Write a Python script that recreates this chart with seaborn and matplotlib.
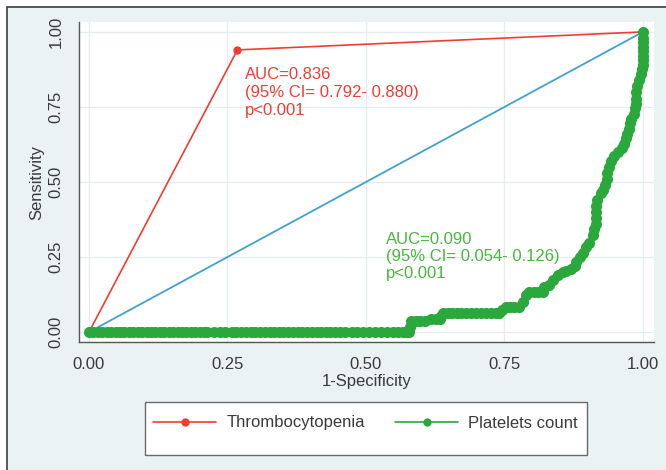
import matplotlib
matplotlib.use("Agg")
import matplotlib.pyplot as plt
import matplotlib.patches as mpatches
from matplotlib.lines import Line2D
import seaborn as sns

# =========================
# DATA
# =========================

# Thrombocytopenia (binary test -> single operating point)
thrombo_fpr = [0.0, 0.268, 1.0]
thrombo_tpr = [0.0, 0.940, 1.0]

# Platelets count ROC curve
platelets_fpr = [
    0.000, 0.008, 0.016, 0.024, 0.032, 0.040, 0.048, 0.056, 0.064, 0.072,
    0.080, 0.088, 0.096, 0.104, 0.112, 0.120, 0.128, 0.136, 0.144, 0.152,
    0.160, 0.168, 0.176, 0.184, 0.192, 0.200, 0.208, 0.213, 0.226, 0.236,
    0.246, 0.258, 0.266, 0.275, 0.283, 0.292, 0.300, 0.309, 0.317, 0.326,
    0.334, 0.343, 0.351, 0.360, 0.368, 0.377, 0.385, 0.394, 0.402, 0.411,
    0.419, 0.428, 0.436, 0.445, 0.453, 0.462, 0.474, 0.484, 0.494, 0.505,
    0.516, 0.528, 0.538, 0.548, 0.558, 0.567, 0.575, 0.578, 0.580, 0.582,
    0.590, 0.598, 0.606, 0.618, 0.626, 0.633, 0.636, 0.640, 0.648, 0.656,
    0.664, 0.672, 0.680, 0.690, 0.699, 0.708, 0.717, 0.726, 0.735, 0.741,
    0.745, 0.752, 0.760, 0.768, 0.777, 0.783, 0.789, 0.795, 0.803, 0.811,
    0.819, 0.822, 0.830, 0.837, 0.846, 0.855, 0.862, 0.870, 0.878, 0.880,
    0.886, 0.891, 0.897, 0.903, 0.909, 0.912, 0.916, 0.916, 0.916, 0.916,
    0.918, 0.924, 0.928, 0.932, 0.936, 0.936, 0.938, 0.942, 0.948, 0.955,
    0.962, 0.966, 0.969, 0.971, 0.974, 0.977, 0.979, 0.983, 0.985, 0.987,
    0.987, 0.988, 0.990, 0.993, 0.996, 0.998, 1.000, 1.000, 1.000, 1.000,
    1.000, 1.000, 1.000, 1.000,
]
platelets_tpr = [
    0.000, 0.000, 0.000, 0.000, 0.000, 0.000, 0.000, 0.000, 0.000, 0.000,
    0.000, 0.000, 0.000, 0.000, 0.000, 0.000, 0.000, 0.000, 0.000, 0.000,
    0.000, 0.000, 0.000, 0.000, 0.000, 0.000, 0.000, 0.000, 0.000, 0.000,
    0.000, 0.000, 0.000, 0.000, 0.000, 0.000, 0.000, 0.000, 0.000, 0.000,
    0.000, 0.000, 0.000, 0.000, 0.000, 0.000, 0.000, 0.000, 0.000, 0.000,
    0.000, 0.000, 0.000, 0.000, 0.000, 0.000, 0.000, 0.000, 0.000, 0.000,
    0.000, 0.000, 0.000, 0.000, 0.000, 0.000, 0.000, 0.000, 0.018, 0.037,
    0.037, 0.037, 0.037, 0.043, 0.043, 0.043, 0.055, 0.065, 0.065, 0.065,
    0.065, 0.065, 0.065, 0.065, 0.065, 0.065, 0.065, 0.065, 0.065, 0.065,
    0.075, 0.082, 0.082, 0.082, 0.082, 0.100, 0.125, 0.132, 0.132, 0.132,
    0.132, 0.150, 0.158, 0.175, 0.190, 0.200, 0.204, 0.210, 0.220, 0.235,
    0.250, 0.262, 0.285, 0.298, 0.325, 0.342, 0.360, 0.380, 0.400, 0.420,
    0.440, 0.462, 0.475, 0.490, 0.510, 0.530, 0.550, 0.570, 0.585, 0.600,
    0.612, 0.628, 0.645, 0.660, 0.678, 0.695, 0.710, 0.728, 0.745, 0.760,
    0.778, 0.800, 0.820, 0.840, 0.860, 0.875, 0.890, 0.905, 0.920, 0.935,
    0.950, 0.965, 0.980, 1.000,
]

# Reference (chance) line
ref_x = [0.0, 1.0]
ref_y = [0.0, 1.0]

tick_vals = [0.0, 0.25, 0.50, 0.75, 1.0]
tick_labels = ["0.00", "0.25", "0.50", "0.75", "1.00"]

thrombo_text = "AUC=0.836\n(95% CI= 0.792- 0.880)\np<0.001"
platelets_text = "AUC=0.090\n(95% CI= 0.054- 0.126)\np<0.001"

# =========================
# STYLE
# =========================

sns.set_theme(style="white")
plt.rcParams["font.family"] = ["Liberation Sans", "DejaVu Sans"]

RED = "#f03c32"
GREEN = "#2ba83c"
GREEN_TXT = "#49b63e"
BLUE = "#3fa2cf"
TXT = "#3a3a3a"
BG = "#eaf2f4"

W, H = 666, 470
fig = plt.figure(figsize=(W / 100, H / 100), dpi=100)
fig.patch.set_facecolor("white")

# outer panel (Stata style) with dark frame, drawn behind everything
fig.patches.append(mpatches.Rectangle(
    (7 / W, -0.02), 1.0, (H - 7) / H + 0.02, transform=fig.transFigure,
    facecolor=BG, edgecolor="#4a4a4a", linewidth=1.3, zorder=-10))

ax = fig.add_axes([79 / W, 128 / H, 575 / W, 320 / H])
ax.set_facecolor("white")

# =========================
# CURVES
# =========================

sns.lineplot(x=ref_x, y=ref_y, ax=ax, color=BLUE, linewidth=1.3,
             sort=False, estimator=None, zorder=2)

sns.lineplot(x=thrombo_fpr, y=thrombo_tpr, ax=ax, color=RED, linewidth=1.2,
             marker="o", markersize=6, markeredgewidth=0, sort=False,
             estimator=None, zorder=3)

sns.lineplot(x=platelets_fpr, y=platelets_tpr, ax=ax, color=GREEN,
             linewidth=1.0, marker="o", markersize=8, markeredgewidth=0,
             sort=False, estimator=None, zorder=4)

# =========================
# ANNOTATIONS
# =========================

ax.text(0.281, 0.882, thrombo_text, color=RED, fontsize=12, va="top",
        ha="left", linespacing=1.25)
ax.text(0.536, 0.335, platelets_text, color=GREEN_TXT, fontsize=12, va="top",
        ha="left", linespacing=1.2)

# =========================
# AXES
# =========================

ax.set_xlim(-0.018, 1.020)
ax.set_ylim(-0.033, 1.033)
ax.set_xticks(tick_vals)
ax.set_xticklabels(tick_labels)
ax.set_yticks(tick_vals)
ax.set_yticklabels(tick_labels, rotation=90, va="center")

ax.grid(True, color="#e3ecef", linewidth=0.9)
ax.set_axisbelow(True)

for side in ["top", "right"]:
    ax.spines[side].set_visible(False)
for side in ["left", "bottom"]:
    ax.spines[side].set_color("#555555")
    ax.spines[side].set_linewidth(1.0)

ax.tick_params(axis="both", direction="out", length=4, width=1,
               color="#555555", labelcolor=TXT, labelsize=12)
ax.tick_params(axis="y", pad=7)
ax.tick_params(axis="x", pad=6.5)

ax.set_xlabel("1-Specificity", fontsize=12, color=TXT, labelpad=2)
ax.set_ylabel("Sensitivity", fontsize=12, color=TXT, labelpad=3)

# =========================
# LEGEND
# =========================

fig.patches.append(mpatches.Rectangle(
    (145 / W, 1 - 455 / H), 442 / W, 53 / H, transform=fig.transFigure,
    facecolor="white", edgecolor="#6a6a6a", linewidth=1.0, zorder=1))

handles = [
    Line2D([], [], color=RED, linewidth=1.2, marker="o", markersize=6,
           markeredgewidth=0),
    Line2D([], [], color=GREEN, linewidth=1.2, marker="o", markersize=6,
           markeredgewidth=0),
]
leg = fig.legend(handles, ["Thrombocytopenia", "Platelets count"],
                 loc="center left", bbox_to_anchor=(153 / W, 1 - 423 / H),
                 ncol=2, frameon=False, fontsize=12, handlelength=3.8,
                 handletextpad=0.6, columnspacing=1.8, borderpad=0,
                 borderaxespad=0)
for t in leg.get_texts():
    t.set_color(TXT)
leg.set_zorder(5)

fig.savefig("out.png", dpi=100, facecolor=fig.get_facecolor())
